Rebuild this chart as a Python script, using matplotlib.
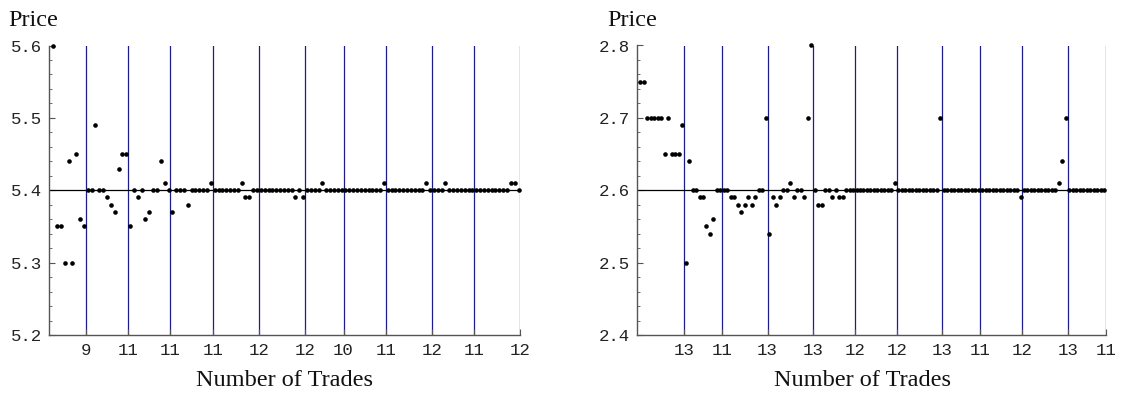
import matplotlib
matplotlib.use("Agg")
import matplotlib.pyplot as plt
from matplotlib.ticker import FixedLocator, MultipleLocator
import numpy as np

# Trades per period (tick labels) and trade prices, first market
left_counts = [9, 11, 11, 11, 12, 12, 10, 11, 12, 11, 12]
left_prices = [
    5.60, 5.35, 5.35, 5.30, 5.44, 5.30, 5.45, 5.36, 5.35,
    5.40, 5.40, 5.49, 5.40, 5.40, 5.39, 5.38, 5.37, 5.43, 5.45, 5.45,
    5.35, 5.40, 5.39, 5.40, 5.36, 5.37, 5.40, 5.40, 5.44, 5.41, 5.40,
    5.37, 5.40, 5.40, 5.40, 5.38, 5.40, 5.40, 5.40, 5.40, 5.40, 5.41,
    5.40, 5.40, 5.40, 5.40, 5.40, 5.40, 5.40, 5.41, 5.39, 5.39, 5.40, 5.40,
    5.40, 5.40, 5.40, 5.40, 5.40, 5.40, 5.40, 5.40, 5.40, 5.39, 5.40, 5.39,
    5.40, 5.40, 5.40, 5.40, 5.41, 5.40, 5.40, 5.40, 5.40, 5.40,
    5.40, 5.40, 5.40, 5.40, 5.40, 5.40, 5.40, 5.40, 5.40, 5.40, 5.41,
    5.40, 5.40, 5.40, 5.40, 5.40, 5.40, 5.40, 5.40, 5.40, 5.40, 5.41, 5.40,
    5.40, 5.40, 5.40, 5.41, 5.40, 5.40, 5.40, 5.40, 5.40, 5.40, 5.40,
    5.40, 5.40, 5.40, 5.40, 5.40, 5.40, 5.40, 5.40, 5.40, 5.41, 5.41, 5.40,
]
left_equilibrium = 5.40
left_ylim = (5.2, 5.6)

# Second market
right_counts = [13, 11, 13, 13, 12, 12, 13, 11, 12, 13, 11]
right_prices = [
    2.75, 2.75, 2.70, 2.70, 2.70, 2.70, 2.70, 2.65, 2.70, 2.65, 2.65, 2.65, 2.69,
    2.50, 2.64, 2.60, 2.60, 2.59, 2.59, 2.55, 2.54, 2.56, 2.60, 2.60,
    2.60, 2.60, 2.59, 2.59, 2.58, 2.57, 2.58, 2.59, 2.58, 2.59, 2.60, 2.60, 2.70,
    2.54, 2.59, 2.58, 2.59, 2.60, 2.60, 2.61, 2.59, 2.60, 2.60, 2.59, 2.70, 2.80,
    2.60, 2.58, 2.58, 2.60, 2.60, 2.59, 2.60, 2.59, 2.59, 2.60, 2.60, 2.60,
    2.60, 2.60, 2.60, 2.60, 2.60, 2.60, 2.60, 2.60, 2.60, 2.60, 2.60, 2.61,
    2.60, 2.60, 2.60, 2.60, 2.60, 2.60, 2.60, 2.60, 2.60, 2.60, 2.60, 2.60, 2.70,
    2.60, 2.60, 2.60, 2.60, 2.60, 2.60, 2.60, 2.60, 2.60, 2.60, 2.60,
    2.60, 2.60, 2.60, 2.60, 2.60, 2.60, 2.60, 2.60, 2.60, 2.60, 2.60, 2.59,
    2.60, 2.60, 2.60, 2.60, 2.60, 2.60, 2.60, 2.60, 2.60, 2.60, 2.61, 2.64, 2.70,
    2.60, 2.60, 2.60, 2.60, 2.60, 2.60, 2.60, 2.60, 2.60, 2.60, 2.60,
]
right_equilibrium = 2.60
right_ylim = (2.4, 2.8)

W, H = 1125, 396
fig = plt.figure(figsize=(W / 100, H / 100), dpi=100)

AXIS_GRAY = "#555555"
PERIOD_BLUE = "#1c1c8a"
TICK_FONT = dict(family="Liberation Mono", size=12.5)
LABEL_FONT = dict(family="Liberation Serif", size=17.5)


def draw_panel(rect, counts, prices, eq, ylim, price_x, xlabel_x):
    ax = fig.add_axes(rect)
    n = np.arange(1, len(prices) + 1)
    bounds = np.cumsum(counts) + 0.5

    ax.set_xlim(0, bounds[-1])
    ax.set_ylim(*ylim)

    for b in bounds:
        ax.axvline(b, color=PERIOD_BLUE, lw=0.9, zorder=1)
    ax.axhline(eq, color="black", lw=0.9, zorder=2)
    ax.plot(n, prices, "o", color="black", ms=3.3, mew=0, zorder=3, clip_on=False)

    for side in ("top", "right"):
        ax.spines[side].set_visible(False)
    for side in ("left", "bottom"):
        ax.spines[side].set_color(AXIS_GRAY)
        ax.spines[side].set_linewidth(1.0)

    ax.xaxis.set_major_locator(FixedLocator(bounds))
    ax.set_xticklabels([str(c) for c in counts], **TICK_FONT)
    ax.yaxis.set_major_locator(MultipleLocator(0.1))
    ax.yaxis.set_minor_locator(MultipleLocator(0.02))
    ax.set_yticks(np.round(np.arange(ylim[0], ylim[1] + 1e-9, 0.1), 2))
    ax.set_yticklabels([f"{v:.1f}" for v in ax.get_yticks()], **TICK_FONT)
    ax.tick_params(axis="both", which="major", direction="in", length=4,
                   width=0.8, color=AXIS_GRAY, labelcolor="#222222")
    ax.tick_params(axis="y", which="minor", direction="in", length=2.5,
                   width=0.6, color=AXIS_GRAY)
    ax.tick_params(axis="x", which="major", pad=6)
    ax.tick_params(axis="y", which="major", pad=5)

    fig.text(price_x / W, 1 - 26 / H, "Price", ha="left", va="baseline",
             color="#111111", **LABEL_FONT)
    fig.text(xlabel_x / W, 1 - 386 / H, "Number of Trades", ha="center",
             va="baseline", color="#111111", **LABEL_FONT)
    return ax


bottom = 1 - 335 / H
height = (335 - 45.5) / H
draw_panel([49.3 / W, bottom, (520.5 - 49.3) / W, height],
           left_counts, left_prices, left_equilibrium, left_ylim, 8, 284.5)
draw_panel([636.7 / W, bottom, (1106 - 636.7) / W, height],
           right_counts, right_prices, right_equilibrium, right_ylim, 607, 863)

fig.savefig("out.png", dpi=100)
